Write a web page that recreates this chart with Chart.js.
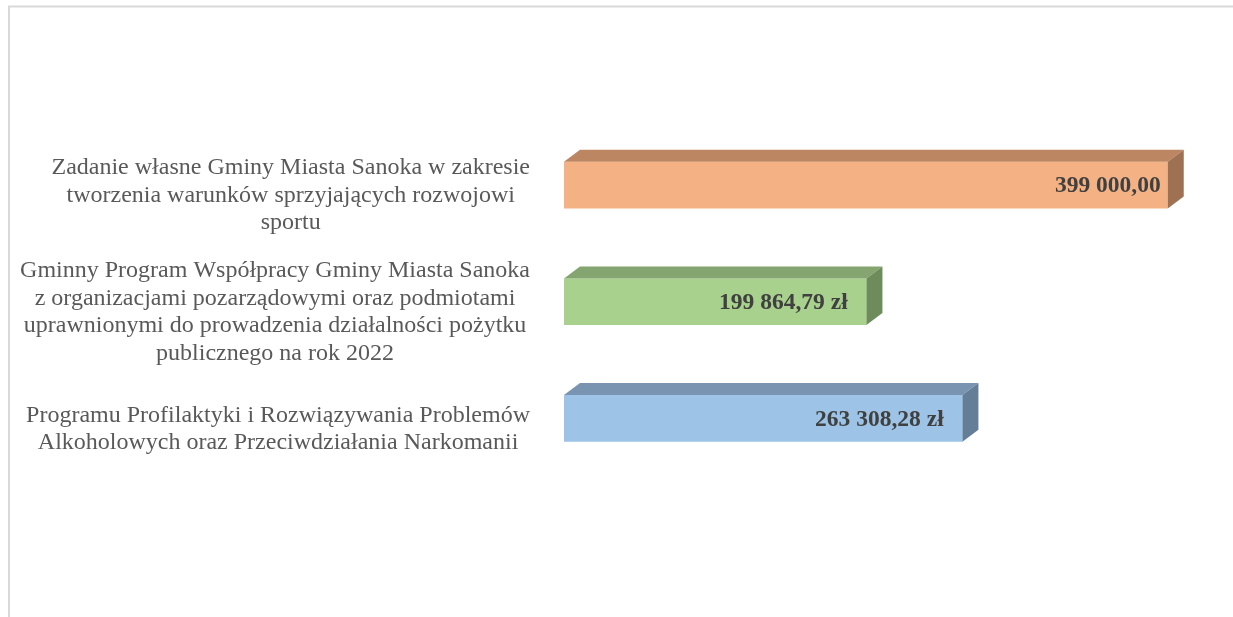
<!DOCTYPE html>
<html>
<head>
<meta charset="utf-8">
<script src="https://cdn.jsdelivr.net/npm/chart.js@4/dist/chart.umd.min.js"></script>
<style>
html,body{margin:0;padding:0;background:#fff;}
#wrap{position:absolute;left:0;top:0;width:1233px;height:617px;}
</style>
</head>
<body>
<div id="wrap"><canvas id="c" width="1233" height="617"></canvas></div>
<script>
const categories = [
  ["Zadanie własne Gminy Miasta Sanoka w zakresie", "tworzenia warunków sprzyjających rozwojowi", "sportu"],
  ["Gminny Program Współpracy Gminy Miasta Sanoka", "z organizacjami pozarządowymi oraz podmiotami", "uprawnionymi do prowadzenia działalności pożytku", "publicznego na rok 2022"],
  ["Programu Profilaktyki i Rozwiązywania Problemów", "Alkoholowych oraz Przeciwdziałania Narkomanii"]
];
const values = [399000.00, 199864.79, 263308.28];
const valueLabels = ["399 000,00", "199 864,79 zł\u00a0\u00a0", "263 308,28 zł\u00a0\u00a0"];
const frontColors = ["#F4B183", "#A9D18E", "#9DC3E6"];
const topColors = ["#BC8662", "#85A570", "#7994B1"];
const sideColors = ["#9E7152", "#6E8B5B", "#647E98"];

const DX = 16, DY = 12;

const framePlugin = {
  id: 'frame',
  beforeDraw(chart) {
    const ctx = chart.ctx;
    ctx.save();
    ctx.fillStyle = '#fff';
    ctx.fillRect(0, 0, chart.width, chart.height);
    ctx.strokeStyle = '#d9d9d9';
    ctx.lineWidth = 2;
    ctx.beginPath();
    ctx.moveTo(9, chart.height);
    ctx.lineTo(9, 6.5);
    ctx.lineTo(chart.width, 6.5);
    ctx.stroke();
    ctx.restore();
  }
};

const bar3dPlugin = {
  id: 'bar3d',
  afterDatasetsDraw(chart) {
    const ctx = chart.ctx;
    const meta = chart.getDatasetMeta(0);
    meta.data.forEach((el, i) => {
      const p = el.getProps(['x', 'y', 'base', 'height'], true);
      const top = p.y - p.height / 2, bot = p.y + p.height / 2;
      ctx.save();
      ctx.fillStyle = topColors[i];
      ctx.beginPath();
      ctx.moveTo(p.base, top);
      ctx.lineTo(p.base + DX, top - DY);
      ctx.lineTo(p.x + DX, top - DY);
      ctx.lineTo(p.x, top);
      ctx.closePath();
      ctx.fill();
      ctx.fillStyle = sideColors[i];
      ctx.beginPath();
      ctx.moveTo(p.x, top);
      ctx.lineTo(p.x + DX, top - DY);
      ctx.lineTo(p.x + DX, bot - DY);
      ctx.lineTo(p.x, bot);
      ctx.closePath();
      ctx.fill();
      // value label
      ctx.fillStyle = '#404040';
      ctx.font = 'bold 23.5px "Liberation Serif", "Times New Roman", serif';
      ctx.textAlign = 'right';
      ctx.textBaseline = 'middle';
      ctx.fillText(valueLabels[i], p.x - 7, p.y + 1);
      ctx.restore();
    });
  }
};

const catLabelPlugin = {
  id: 'catLabels',
  afterDraw(chart) {
    const ctx = chart.ctx;
    const yScale = chart.scales.y;
    ctx.save();
    ctx.fillStyle = '#595959';
    ctx.font = '24px "Liberation Serif", "Times New Roman", serif';
    ctx.textAlign = 'center';
    ctx.textBaseline = 'middle';
    const lh = 27.4;
    const rightEdge = 530;
    categories.forEach((lines, i) => {
      const cy = yScale.getPixelForValue(i) + 10.5;
      const maxW = Math.max(...lines.map(l => ctx.measureText(l).width));
      const cx = rightEdge - maxW / 2;
      const y0 = cy - (lines.length - 1) * lh / 2;
      lines.forEach((l, k) => ctx.fillText(l, cx, y0 + k * lh));
    });
    ctx.restore();
  }
};

new Chart(document.getElementById('c'), {
  type: 'bar',
  data: {
    labels: categories.map(c => c.join(' ')),
    datasets: [{
      data: values,
      backgroundColor: frontColors,
      borderWidth: 0,
      categoryPercentage: 1.0,
      barPercentage: 0.4
    }]
  },
  options: {
    indexAxis: 'y',
    responsive: false,
    animation: false,
    devicePixelRatio: 1,
    layout: { padding: { left: 564, right: 35, top: 126.7, bottom: 140.2 } },
    plugins: { legend: { display: false }, tooltip: { enabled: false } },
    scales: {
      x: { display: false, min: 0, max: 419000 },
      y: { display: false }
    }
  },
  plugins: [framePlugin, bar3dPlugin, catLabelPlugin]
});
</script>
</body>
</html>
